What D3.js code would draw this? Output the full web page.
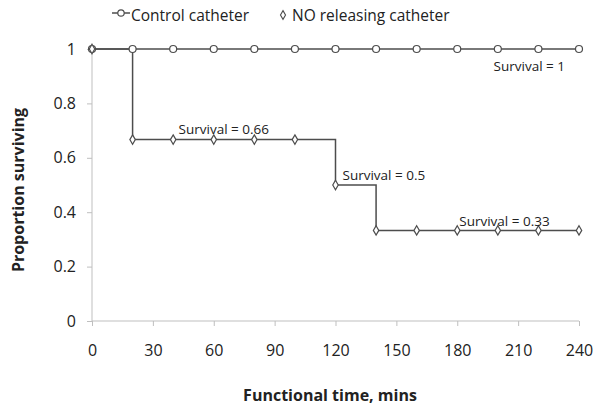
<!DOCTYPE html>
<html><head><meta charset="utf-8">
<script src="https://cdn.jsdelivr.net/npm/d3@7"></script>
<style>body{margin:0;background:#fff;} text{font-family:"Open Sans","Liberation Sans",sans-serif;}</style>
</head><body>
<svg id="c" width="602" height="412"></svg>
<script>
const times = [0,20,40,60,80,100,120,140,160,180,200,220,240];
const controlValues = [1,1,1,1,1,1,1,1,1,1,1,1,1];
const noValues = [1,0.667,0.667,0.667,0.667,0.667,0.5,0.333,0.333,0.333,0.333,0.333,0.333];
const xTicks = [0,30,60,90,120,150,180,210,240];
const yTicks = [0,0.2,0.4,0.6,0.8,1];
const yTickLabels = ["0","0.2","0.4","0.6","0.8","1"];
const annotations = [
  {t:240, v:1, text:"Survival = 1", dx:-14, dy:22, anchor:"end"},
  {t:20, v:0.667, text:"Survival = 0.66", dx:46, dy:-6, anchor:"start"},
  {t:120, v:0.5, text:"Survival = 0.5", dx:7, dy:-5, anchor:"start"},
  {t:180, v:0.333, text:"Survival = 0.33", dx:2, dy:-4, anchor:"start"}
];

const svg = d3.select("#c");
const x = d3.scaleLinear().domain([0,240]).range([92,579]);
const y = d3.scaleLinear().domain([0,1]).range([321,49]);

const gx = svg.append("g").attr("transform","translate(0,321)")
  .call(d3.axisBottom(x).tickValues(xTicks).tickSize(5).tickPadding(19).tickFormat(d=>d));
const gy = svg.append("g").attr("transform","translate(92,0)")
  .call(d3.axisLeft(y).tickValues(yTicks).tickSize(5).tickPadding(11).tickFormat((d,i)=>yTickLabels[i]));
[gx,gy].forEach(g=>{
  g.selectAll("path,line").attr("stroke","#bfbfbf");
  g.selectAll("text").attr("font-size",16).attr("fill","#222").attr("font-family","'Open Sans',sans-serif");
});
gx.select(".domain").attr("d","M92,0H579");
gy.select(".domain").attr("d","M0,321V49");

const stepLine = d3.line().x(d=>x(d[0])).y(d=>y(d[1])).curve(d3.curveStepAfter);
const ctrl = times.map((t,i)=>[t,controlValues[i]]);
const no = times.map((t,i)=>[t,noValues[i]]);

svg.append("path").attr("d",stepLine(ctrl)).attr("fill","none").attr("stroke","#4d4d4d").attr("stroke-width",1.5);
svg.append("path").attr("d",stepLine(no)).attr("fill","none").attr("stroke","#4d4d4d").attr("stroke-width",1.5);

svg.selectAll(".cm").data(ctrl).join("circle").attr("cx",d=>x(d[0])).attr("cy",d=>y(d[1])).attr("r",3.5)
  .attr("fill","#fff").attr("stroke","#4d4d4d").attr("stroke-width",1.2);
const dia = d3.symbol().type(d3.symbolDiamond).size(26);
svg.selectAll(".dm").data(no).join("path").attr("d",dia)
  .attr("transform",d=>`translate(${x(d[0])},${y(d[1])})`)
  .attr("fill","#fff").attr("stroke","#4d4d4d").attr("stroke-width",1.2);

svg.selectAll(".ann").data(annotations).join("text")
  .attr("x",d=>x(d.t)+d.dx).attr("y",d=>y(d.v)+d.dy)
  .attr("text-anchor",d=>d.anchor)
  .attr("font-size",13.5).attr("fill","#222").text(d=>d.text);

// legend
const lg = svg.append("g");
lg.append("line").attr("x1",112).attr("x2",130).attr("y1",13).attr("y2",13).attr("stroke","#4d4d4d").attr("stroke-width",1.5);
lg.append("circle").attr("cx",121).attr("cy",13).attr("r",3.2).attr("fill","#fff").attr("stroke","#4d4d4d").attr("stroke-width",1.2);
lg.append("text").attr("x",131).attr("y",21).attr("font-size",15.5).attr("fill","#222").text("Control catheter");
lg.append("path").attr("d",d3.symbol().type(d3.symbolDiamond).size(22)).attr("transform","translate(283,15)")
  .attr("fill","#fff").attr("stroke","#4d4d4d").attr("stroke-width",1.1);
lg.append("text").attr("x",292).attr("y",21).attr("font-size",15.5).attr("fill","#222").text("NO releasing catheter");

svg.append("text").attr("x",330).attr("y",401).attr("text-anchor","middle").attr("font-size",16).attr("font-weight","bold").attr("fill","#222").text("Functional time, mins");
svg.append("text").attr("transform","translate(24,190) rotate(-90)").attr("text-anchor","middle").attr("font-size",16).attr("font-weight","bold").attr("fill","#222").text("Proportion surviving");
</script>
</body></html>
